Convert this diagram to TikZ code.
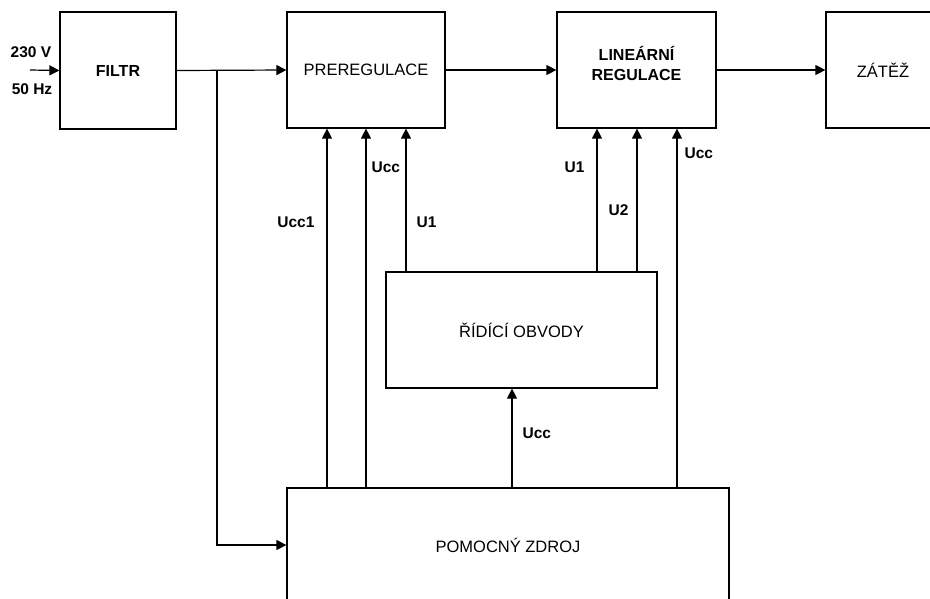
\documentclass[tikz,border=0pt]{standalone}
\usepackage{fontspec}
\setmainfont{Liberation Sans}
\usetikzlibrary{positioning,arrows.meta}

\begin{document}
\begin{tikzpicture}[
  x=1pt, y=-1pt,
  font=\fontsize{16.5}{20}\selectfont,
  block/.style={draw, line width=1.2pt, rectangle, inner sep=0pt, align=center},
  sig/.style={-{Triangle[length=10pt,width=10pt]}, line width=1.2pt},
  lbl/.style={inner sep=0pt, font=\fontsize{15.5}{18}\selectfont\bfseries}
]
\useasboundingbox (0,0) rectangle (930,598);
\clip (0,0) rectangle (930,598);

% bloky
\node[block, minimum width=116pt, minimum height=117pt, font=\fontsize{16}{20}\selectfont\bfseries] (filtr) at (118,70.5) {FILTR};
\node[block, minimum width=158pt, minimum height=116pt] (prereg) at (366,70) {PREREGULACE};
\node[block, minimum width=159pt, minimum height=116pt, text depth=14pt, font=\fontsize{16}{20}\selectfont\bfseries] (linreg) at (636.5,70) {LINEÁRNÍ\\REGULACE};
\node[block, minimum width=114pt, minimum height=116pt] (zatez) at (883,70) {ZÁTĚŽ};
\node[block, minimum width=271pt, minimum height=116pt] (ridici) at (521.5,330) {ŘÍDÍCÍ OBVODY};
\node[block, minimum width=442pt, minimum height=114pt] (zdroj) at (508,545) {POMOCNÝ ZDROJ};

% vstup
\coordinate (vstup) at (30,70);
\node[lbl] (u230) at (31,52) {230 V};
\node[lbl] (f50) at (32,89) {50 Hz};
\draw[sig] (vstup) -- (filtr.west);

% silova cesta
\coordinate (odb) at (217,70);
\draw[sig] (filtr.east) -- (prereg.west);
\draw[sig] (odb) |- (zdroj.west);
\draw[sig] (prereg.east) -- (linreg.west);
\draw[sig] (linreg.east) -- (zatez.west);

% napajeni a rizeni
\draw[sig] (327,0 |- zdroj.north) -- (327,0 |- prereg.south) node[lbl, pos=0.739, left=12pt] {Ucc1};
\draw[sig] (366,0 |- zdroj.north) -- (366,0 |- prereg.south) node[lbl, pos=0.892, right=5pt] {Ucc};
\draw[sig] (406,0 |- ridici.north) -- (406,0 |- prereg.south) node[lbl, pos=0.347, right=10pt] {U1};
\draw[sig] (597,0 |- ridici.north) -- (597,0 |- linreg.south) node[lbl, pos=0.729, left=12pt] {U1};
\draw[sig] (637,0 |- ridici.north) -- (637,0 |- linreg.south) node[lbl, pos=0.43, left=8pt] {U2};
\draw[sig] (677,0 |- zdroj.north) -- (677,0 |- linreg.south) node[lbl, pos=0.93, right=7pt] {Ucc};
\draw[sig] (512,0 |- zdroj.north) -- (512,0 |- ridici.south) node[lbl, pos=0.55, right=10pt] {Ucc};
\end{tikzpicture}
\end{document}
